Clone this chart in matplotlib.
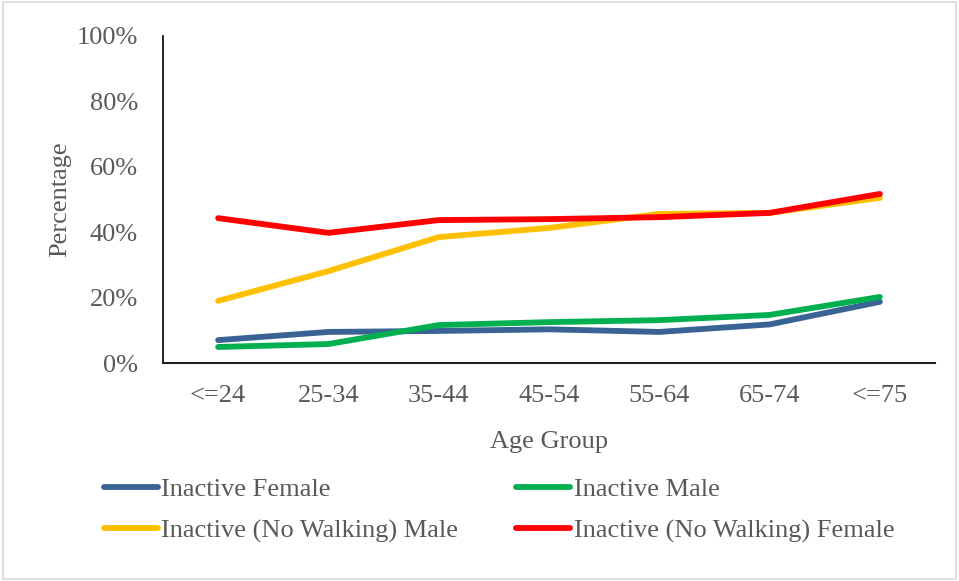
import matplotlib
matplotlib.use("Agg")
import matplotlib.pyplot as plt
from matplotlib.patches import Rectangle

categories = ["<=24", "25-34", "35-44", "45-54", "55-64", "65-74", "<=75"]
inactive_female = [7.0, 9.5, 9.8, 10.3, 9.5, 11.8, 18.7]
inactive_male = [4.9, 5.8, 11.6, 12.5, 13.1, 14.7, 20.2]
nowalk_male = [19.0, 28.1, 38.5, 41.3, 45.6, 45.9, 50.5]
nowalk_female = [44.3, 39.8, 43.7, 44.0, 44.6, 45.9, 51.7]
yticks = [0, 20, 40, 60, 80, 100]

plt.rcParams['font.family'] = ['Liberation Serif', 'DejaVu Serif']
gray = '#595959'
fs = 19

fig = plt.figure(figsize=(9.59, 5.81), dpi=100)
ax = fig.add_axes([163/959, 1-363/581, (935-163)/959, (363-36)/581])

x = list(range(len(categories)))
lw = 4.2
l1, = ax.plot(x, inactive_female, color='#3A6395', lw=lw, solid_capstyle='round', label='Inactive Female')
l2, = ax.plot(x, inactive_male, color='#00B050', lw=lw, solid_capstyle='round', label='Inactive Male')
l3, = ax.plot(x, nowalk_male, color='#FFC000', lw=lw, solid_capstyle='round', label='Inactive (No Walking) Male')
l4, = ax.plot(x, nowalk_female, color='#FF0000', lw=lw, solid_capstyle='round', label='Inactive (No Walking) Female')

ax.set_xlim(-0.5, len(categories) - 0.5)
ax.set_ylim(0, 100)
ax.set_yticks(yticks)
ax.set_yticklabels([f"{v}%" for v in yticks], color=gray, fontsize=fs)
ax.set_xticks(x)
ax.set_xticklabels(categories, color=gray, fontsize=fs)
ax.tick_params(axis='x', length=0, pad=16)
ax.tick_params(axis='y', length=0, pad=18)
for s in ['top', 'right']:
    ax.spines[s].set_visible(False)
ax.spines['left'].set_color('black')
ax.spines['bottom'].set_color('#222222')
ax.spines['left'].set_linewidth(1.2)
ax.spines['bottom'].set_linewidth(1.5)
ax.set_ylabel("Percentage", color=gray, fontsize=fs, labelpad=4)
ax.set_xlabel("Age Group", color=gray, fontsize=fs, labelpad=17)

fig.legend(handles=[l1, l3, l2, l4], loc='upper left', bbox_to_anchor=(93/959, 1-467/581),
           ncol=2, frameon=False, fontsize=fs, labelcolor=gray, handlelength=2.05,
           handletextpad=0.12, columnspacing=2.22, labelspacing=0.69, borderaxespad=0)

fig.add_artist(Rectangle((0.003, 0.003), 0.994, 0.994, transform=fig.transFigure,
                         fill=False, edgecolor='#d9d9d9', lw=1.2))

fig.savefig("out.png", dpi=100)
